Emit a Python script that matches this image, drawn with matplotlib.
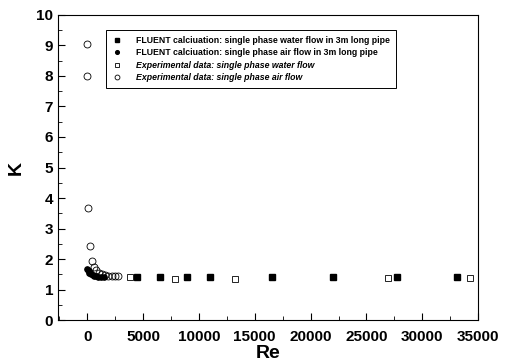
import matplotlib
matplotlib.use("Agg")
import matplotlib.pyplot as plt
from matplotlib.ticker import MultipleLocator

plt.rcParams['font.family'] = ['Liberation Sans', 'DejaVu Sans']
plt.rcParams['font.weight'] = 'bold'

# FLUENT, water, 3m pipe
re_water_cfd = [4500, 6500, 8900, 11000, 16500, 22000, 27700, 33100]
k_water_cfd = [1.41, 1.42, 1.41, 1.41, 1.41, 1.41, 1.41, 1.42]

# FLUENT, air, 3m pipe
re_air_cfd = [30, 80, 130, 200, 280, 380, 500, 650, 800, 1000, 1250, 1500]
k_air_cfd = [1.68, 1.64, 1.6, 1.56, 1.53, 1.5, 1.48, 1.46, 1.44, 1.42, 1.41, 1.40]

# experimental, water
re_water_exp = [3850, 7900, 13200, 26900, 34300]
k_water_exp = [1.41, 1.35, 1.35, 1.39, 1.38]

# experimental, air
re_air_exp = [0, 0, 100, 300, 450, 600, 800, 1050, 1300, 1600, 1900, 2200, 2500, 2800]
k_air_exp = [9.05, 8.0, 3.67, 2.43, 1.93, 1.75, 1.63, 1.56, 1.5, 1.47, 1.45, 1.45, 1.45, 1.45]

fig = plt.figure(figsize=(5.05, 3.63), dpi=100)
ax = fig.add_axes([0.115, 0.118, 0.832, 0.841])

ax.plot(re_water_cfd, k_water_cfd, 's', color='black', markersize=3.8, linestyle='none',
        label='FLUENT calciuation: single phase water flow in 3m long pipe')
ax.plot(re_air_cfd, k_air_cfd, 'o', color='black', markersize=3.8, linestyle='none',
        label='FLUENT calciuation: single phase air flow in 3m long pipe')
ax.plot(re_water_exp, k_water_exp, 's', mfc='white', mec='black', mew=0.6, markersize=4.5,
        linestyle='none', label='Experimental data: single phase water flow')
ax.plot(re_air_exp, k_air_exp, 'o', mfc='none', mec='black', mew=0.6, markersize=5,
        linestyle='none', label='Experimental data: single phase air flow')

ax.set_xlim(-2600, 35000)
ax.set_ylim(0, 10)
ax.xaxis.set_major_locator(MultipleLocator(5000))
ax.xaxis.set_minor_locator(MultipleLocator(2500))
ax.yaxis.set_major_locator(MultipleLocator(1))
ax.yaxis.set_minor_locator(MultipleLocator(0.5))
ax.tick_params(which='both', direction='in', top=False, right=False, labelsize=11)
ax.tick_params(which='major', length=5)
ax.tick_params(which='minor', length=3)
ax.tick_params(axis='x', pad=7)

ax.set_xlabel('Re', fontsize=14, fontweight='bold', labelpad=1)
ax.set_ylabel('K', fontsize=14, fontweight='bold', labelpad=8)

leg = ax.legend(loc='upper left', bbox_to_anchor=(0.113, 0.952), fontsize=6.3,
                frameon=True, fancybox=False, edgecolor='black', framealpha=1,
                borderpad=0.7, handletextpad=1.6, labelspacing=0.4, borderaxespad=0,
                markerscale=0.7, handlelength=1.2)
leg.get_frame().set_linewidth(0.7)
for t in leg.get_texts()[2:]:
    t.set_fontstyle('italic')

fig.savefig('out.png', dpi=100)
